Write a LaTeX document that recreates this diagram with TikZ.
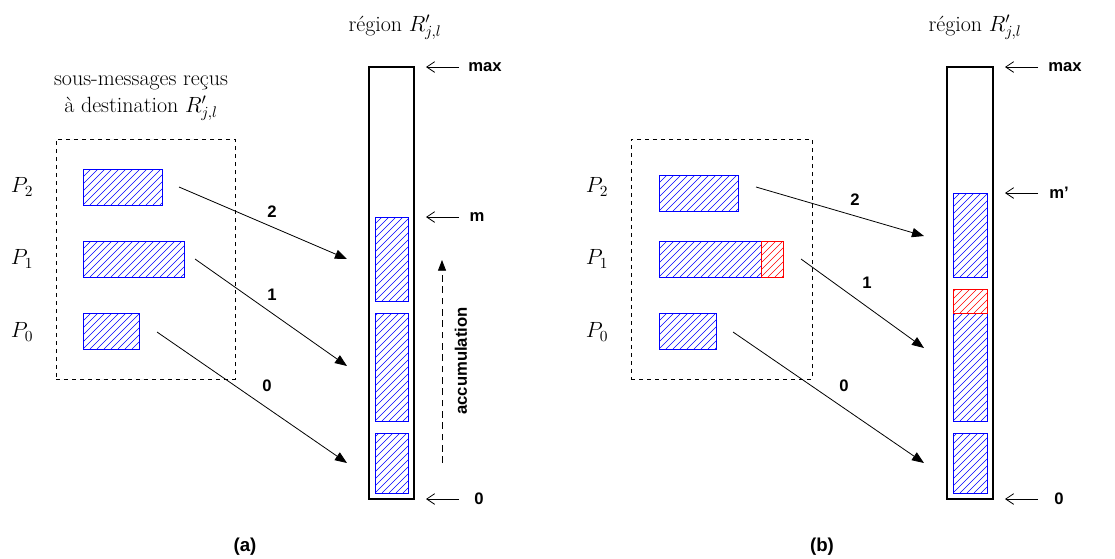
\RequirePackage{fix-cm}
\documentclass[tikz,border=0pt]{standalone}
\usepackage{fontspec}
\newfontfamily\labfont{Liberation Sans}
\usetikzlibrary{arrows.meta,fit,calc}
\begin{document}
\begin{tikzpicture}[x=0.75pt,y=-0.75pt,
  hatchlines/.style={path picture={
    \foreach \i in {-18,...,18}{
      \draw[#1, line width=0.45pt] ($(path picture bounding box.south west)+(\i*7,0)$) -- ++(160,-160);}}},
  hatch/.style={draw=blue, line width=0.7pt, inner sep=0pt, hatchlines=blue},
  hatchred/.style={draw=red, line width=0.7pt, inner sep=0pt, hatchlines=red},
  column/.style={draw, line width=0.8pt, inner sep=0pt},
  group/.style={draw, dashed, line width=0.6pt, inner sep=0pt},
  msg/.style={-{Triangle[length=9pt,width=7pt]}, line width=0.6pt},
  refarrow/.style={-{Straight Barb[length=6pt,width=8pt]}, line width=0.6pt},
  accum/.style={dash pattern=on 5pt off 3.5pt, -{Triangle[length=8pt,width=6pt]}, line width=0.6pt},
  lbl/.style={font=\labfont\bfseries\fontsize{12.5}{14}\selectfont, inner sep=1pt},
  captext/.style={font=\labfont\bfseries\fontsize{14}{16}\selectfont, inner sep=1pt},
  txt/.style={font=\fontsize{16.5}{20}\selectfont, inner sep=1pt, align=center},
  ]
\useasboundingbox (0,0) rectangle (1115,558);

% ===================== panel (a) =====================
\node[txt] (ta) at (395,27) {région $R'_{j,l}$};
\node[txt] (sa) at (141,98) {sous-messages reçus\\ à destination $R'_{j,l}$};
\node[group, fit={(56,139)(235,379)}] (ga) {};
\node[txt] (lp2a) at (22,187) {$P_2$};
\node[txt] (lp1a) at (22,259) {$P_1$};
\node[txt] (lp0a) at (22,332) {$P_0$};
\node[hatch, fit={(83,169)(162,205)}] (p2a) {};
\node[hatch, fit={(83,241)(184,277)}] (p1a) {};
\node[hatch, fit={(83,313)(139,349)}] (p0a) {};

\node[column, fit={(369,67)(414,499)}] (cola) {};
\node[hatch, fit={(375,217)(408,301)}] (c2a) {};
\node[hatch, fit={(375,313)(408,421)}] (c1a) {};
\node[hatch, fit={(375,433)(408,493)}] (c0a) {};

\coordinate (s2a) at (179,187);
\coordinate (s1a) at (195,259);
\coordinate (s0a) at (157,332);
\coordinate (e2a) at (347,259);
\coordinate (e1a) at (347,366);
\coordinate (e0a) at (347,463);
\draw[msg] (s2a) -- (e2a);
\draw[msg] (s1a) -- (e1a);
\draw[msg] (s0a) -- (e0a);
\node[lbl] (n2a) at (272,212) {2};
\node[lbl] (n1a) at (272,295) {1};
\node[lbl] (n0a) at (267,386) {0};

\node[lbl] (maxa) at (485,67) {max};
\node[lbl] (ma) at (477,217) {m};
\node[lbl] (za) at (479,499) {0};
\coordinate (rmaxa) at (459,67);
\coordinate (rma) at (459,217);
\coordinate (rza) at (459,499);
\coordinate (tmaxa) at (426,67);
\coordinate (tma) at (426,217);
\coordinate (tza) at (426,499);
\draw[refarrow] (rmaxa) -- (tmaxa);
\draw[refarrow] (rma) -- (tma);
\draw[refarrow] (rza) -- (tza);

\coordinate (acc0) at (442,463);
\coordinate (acc1) at (442,260);
\draw[accum] (acc0) -- (acc1);
\node[lbl, rotate=90] (acca) at (461,361) {accumulation};

\node[captext] (capa) at (245,547) {(a)};

% ===================== panel (b) =====================
\node[txt] (tb) at (975,27) {région $R'_{j,l}$};
\node[group, fit={(631,139)(812,379)}] (gb) {};
\node[txt] (lp2b) at (597,187) {$P_2$};
\node[txt] (lp1b) at (597,259) {$P_1$};
\node[txt] (lp0b) at (597,332) {$P_0$};
\node[hatch, fit={(659,175)(738,211)}] (p2b) {};
\node[hatch, fit={(659,241)(761,277)}] (p1b) {};
\node[hatchred, fit={(761,241)(783,277)}] (p1rb) {};
\node[hatch, fit={(659,313)(716,349)}] (p0b) {};

\node[column, fit={(947,67)(993,499)}] (colb) {};
\node[hatch, fit={(953,193)(987,277)}] (c2b) {};
\node[hatch, fit={(953,313)(987,421)}] (c1b) {};
\node[hatchred, fit={(953,289)(987,313)}] (crb) {};
\node[hatch, fit={(953,433)(987,493)}] (c0b) {};

\coordinate (s2b) at (756,187);
\coordinate (s1b) at (801,259);
\coordinate (s0b) at (733,332);
\coordinate (e2b) at (924,236);
\coordinate (e1b) at (924,348);
\coordinate (e0b) at (924,463);
\draw[msg] (s2b) -- (e2b);
\draw[msg] (s1b) -- (e1b);
\draw[msg] (s0b) -- (e0b);
\node[lbl] (n2b) at (855,200) {2};
\node[lbl] (n1b) at (867,283) {1};
\node[lbl] (n0b) at (844,386) {0};

\node[lbl] (maxb) at (1065,67) {max};
\node[lbl] (mb) at (1059,193) {m’};
\node[lbl] (zb) at (1059,499) {0};
\coordinate (rmaxb) at (1038,67);
\coordinate (rmb) at (1038,193);
\coordinate (rzb) at (1038,499);
\coordinate (tmaxb) at (1005,67);
\coordinate (tmb) at (1005,193);
\coordinate (tzb) at (1005,499);
\draw[refarrow] (rmaxb) -- (tmaxb);
\draw[refarrow] (rmb) -- (tmb);
\draw[refarrow] (rzb) -- (tzb);

\node[captext] (capb) at (822,547) {(b)};
\end{tikzpicture}
\end{document}
